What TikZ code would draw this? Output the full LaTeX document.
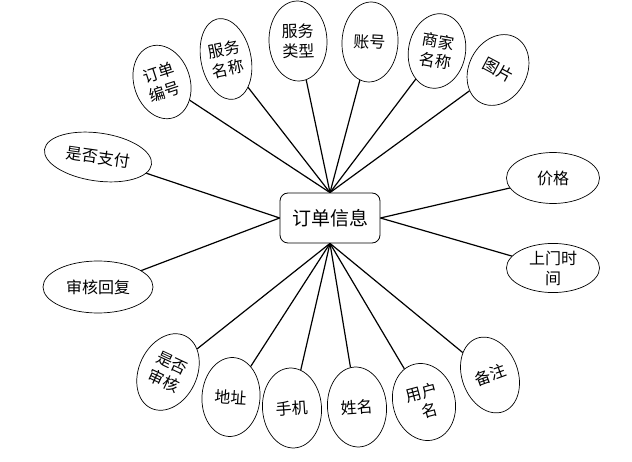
\documentclass[tikz,border=0pt]{standalone}
\usepackage{fontspec}
\usepackage{tikz}
\usetikzlibrary{shapes.geometric}
\setmainfont{Noto Sans CJK SC}

\begin{document}
\begin{tikzpicture}[x=1pt,y=-1pt,
attr/.style={ellipse,draw,line width=0.7pt,inner sep=0pt,align=center,
  font=\fontsize{16}{20}\selectfont},
entity/.style={rectangle,rounded corners=8pt,draw,line width=0.8pt,
  minimum width=100pt,minimum height=50pt,font=\fontsize{19}{22}\selectfont},
link/.style={line width=1.2pt}]
\useasboundingbox (0,0) rectangle (632,462);
\node[entity] (info) at (330,218) {订单信息};
\node[attr,minimum width=56pt,minimum height=75pt,rotate=18] (ddbh) at (162,82) {订单\\编号};
\node[attr,minimum width=50pt,minimum height=82pt,rotate=12] (fwmc) at (226,59) {服务\\名称};
\node[attr,minimum width=58pt,minimum height=80pt,rotate=2] (fwlx) at (298,41) {服务\\类型};
\node[attr,minimum width=56pt,minimum height=80pt,rotate=-3] (zh) at (370,42) {账号};
\node[attr,minimum width=57pt,minimum height=75pt,rotate=-10] (sjmc) at (437,51) {商家\\名称};
\node[attr,minimum width=58pt,minimum height=74pt,rotate=-28] (tp) at (498,70) {图片};
\node[attr,minimum width=108pt,minimum height=48pt,rotate=-8] (sfzf) at (98,157) {是否支付};
\node[attr,minimum width=110pt,minimum height=52pt] (shhf) at (98,287) {审核回复};
\node[attr,minimum width=93pt,minimum height=51pt] (jg) at (553,178) {价格};
\node[attr,minimum width=93pt,minimum height=47pt] (smsj) at (553,268) {上门时\\间};
\node[attr,minimum width=58pt,minimum height=80pt,rotate=-25] (sfsh) at (168,372) {是否\\审核};
\node[attr,minimum width=58pt,minimum height=79pt,rotate=-4] (dz) at (231,397) {地址};
\node[attr,minimum width=59pt,minimum height=80pt,rotate=4] (sj) at (292,408) {手机};
\node[attr,minimum width=59pt,minimum height=80pt,rotate=4] (xm) at (357,407) {姓名};
\node[attr,minimum width=62pt,minimum height=78pt,rotate=15] (yhm) at (424,402) {用户\\\ \ 名};
\node[attr,minimum width=56pt,minimum height=78pt,rotate=20] (bz) at (490,375) {备注};
\foreach \a in {ddbh,fwmc,fwlx,zh,sjmc,tp}
  \draw[link] (\a) -- (info.north);
\foreach \a in {sfsh,dz,sj,xm,yhm,bz}
  \draw[link] (\a) -- (info.south);
\foreach \a in {sfzf,shhf}
  \draw[link] (\a) -- (info.west);
\foreach \a in {jg,smsj}
  \draw[link] (\a) -- (info.east);
\end{tikzpicture}
\end{document}
